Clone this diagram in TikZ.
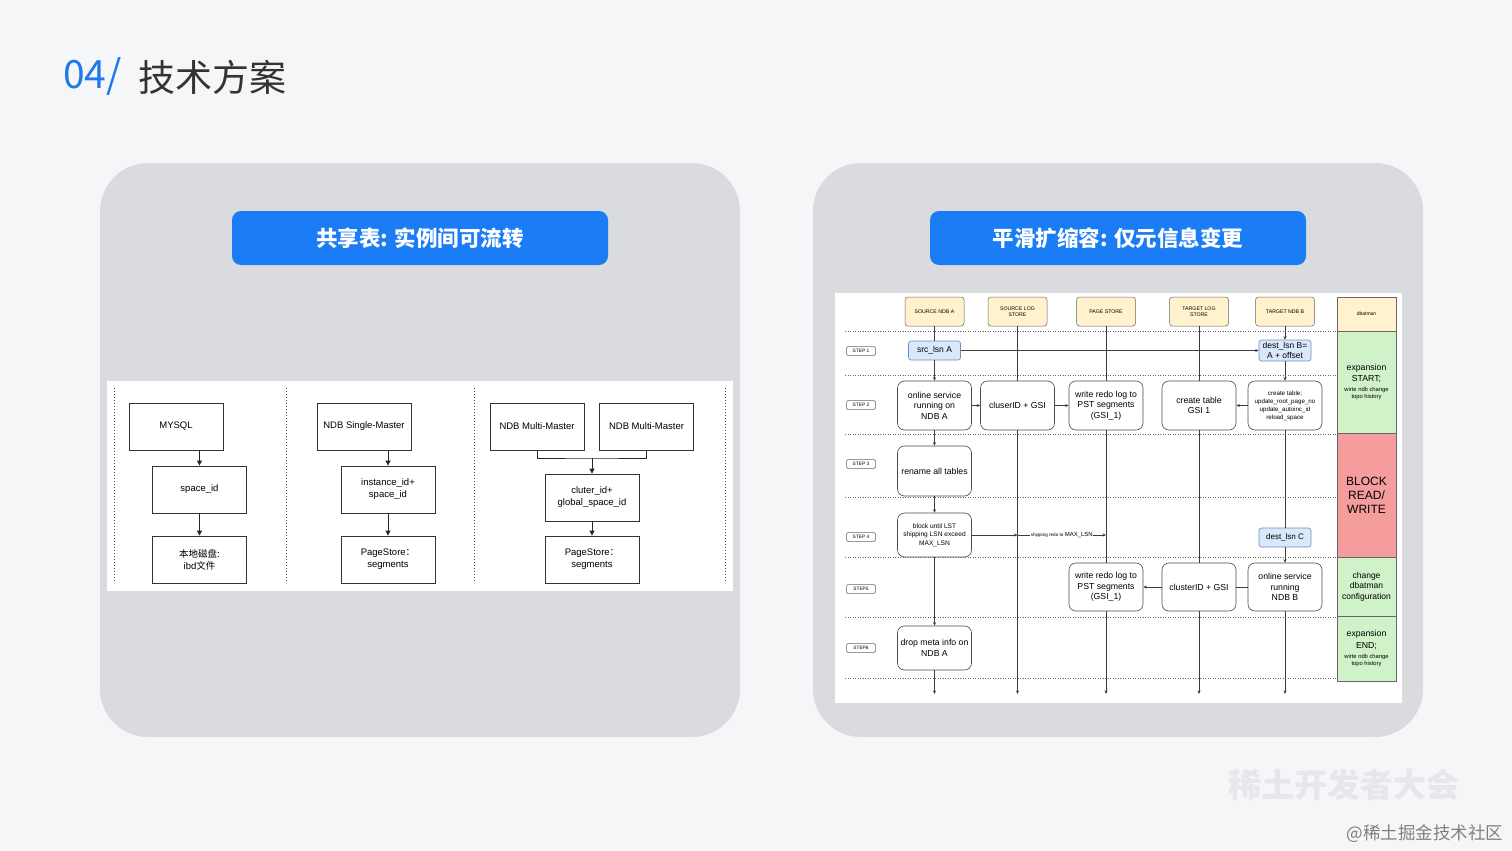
\documentclass[tikz,border=0pt]{standalone}
\usepackage{fontspec}
\setmainfont{Liberation Sans}
\newfontfamily\cjk{Noto Sans CJK SC}
\usetikzlibrary{arrows.meta}
\definecolor{bgc}{HTML}{F5F6F8}
\definecolor{panelc}{HTML}{DADBDE}
\definecolor{btnc}{HTML}{1B7DF5}
\definecolor{titleblue}{HTML}{1F79E6}
\definecolor{titlegray}{HTML}{333333}
\definecolor{yelf}{HTML}{FFF2CC}
\definecolor{bluef}{HTML}{DAE8FC}
\definecolor{blued}{HTML}{6C8EBF}
\definecolor{greenf}{HTML}{CFF2C9}
\definecolor{redf}{HTML}{F49D9C}
\definecolor{linec}{HTML}{3C3C3C}
\definecolor{wmc}{HTML}{E6E7EA}
\newcommand\dfa{\fontsize{8.7}{10.5}\selectfont}
\newcommand\dfb{\fontsize{5.8}{7}\selectfont}
\begin{document}
\begin{tikzpicture}[x=1pt,y=-1pt,
  lbox/.style={draw=black!80, line width=0.8pt, fill=white, minimum width=94, minimum height=47, align=center, inner sep=0, font=\fontsize{9.5}{12}\selectfont},
  larr/.style={draw=black!85, line width=0.8pt, -{Triangle[length=5pt,width=5pt]}},
  lline/.style={draw=black!85, line width=0.8pt},
  ldot/.style={draw=black!70, line width=0.8pt, dash pattern=on 1.2pt off 1.8pt},
  hdr/.style={draw=black!60, line width=0.5pt, fill=yelf, rounded corners=3, minimum width=59, minimum height=29, align=center, inner sep=0, font=\fontsize{5.2}{6.5}\selectfont},
  dcol/.style={draw=black!60, line width=0.5pt, minimum width=59, align=center, inner sep=0},
  stepbox/.style={draw=black!60, line width=0.5pt, fill=white, rounded corners=1.5, minimum width=29, minimum height=9, inner sep=0, font=\fontsize{4.8}{5}\selectfont},
  bluebox/.style={draw=blued, line width=0.6pt, fill=bluef, rounded corners=2.5, minimum width=52, minimum height=19, align=center, inner sep=0, font=\fontsize{8.5}{10}\selectfont},
  rbox/.style={draw=black!70, line width=0.6pt, fill=white, rounded corners=7, minimum width=74, minimum height=49, align=center, inner sep=0, font=\fontsize{8.7}{10.5}\selectfont},
  rline/.style={draw=linec, line width=0.6pt},
  rarr/.style={draw=linec, line width=0.6pt, -{Stealth[length=3.5pt,width=3pt]}},
  rdot/.style={draw=black!60, line width=0.6pt, dash pattern=on 1pt off 1.5pt},
  btn/.style={fill=btnc, rounded corners=9, minimum width=376, minimum height=54, inner sep=0, text=white, font=\cjk\bfseries\fontsize{21.5}{21.5}\selectfont}
]
\useasboundingbox (0,0) rectangle (1512,851);
\fill[bgc] (0,0) rectangle (1512,851);

% title
\node[anchor=west, inner sep=0, text=titleblue] (tnum) at (63,77) {\cjk\fontsize{39}{39}\selectfont 04/};
\node[anchor=west, inner sep=0, text=titlegray] (ttxt) at (138,77) {\cjk\fontsize{37}{37}\selectfont 技术方案};

% panels
\fill[panelc] (100,163) [rounded corners=48] rectangle (740,737);
\fill[panelc] (813,163) [rounded corners=48] rectangle (1423,737);

\node[btn] (b1) at (420,238) {共享表: 实例间可流转};
\node[btn] (b2) at (1118,238) {平滑扩缩容: 仅元信息变更};

% ===== left diagram =====
\fill[white] (107,381) rectangle (733,591);
\draw[ldot] (114,388) -- (114,583);
\draw[ldot] (286,388) -- (286,583);
\draw[ldot] (474,388) -- (474,583);
\draw[ldot] (725,388) -- (725,583);

\node[lbox] (mysql) at (176,426.5) {MYSQL};
\node[lbox] (sid) at (199.5,489.5) {space\_id};
\node[lbox] (disk) at (199.5,559.5) {\cjk 本地磁盘:\\ibd\cjk 文件};
\draw[larr] (sid.north |- mysql.south) -- (sid.north);
\draw[larr] (sid.south) -- (disk.north);

\node[lbox] (ndb1) at (364,426.5) {NDB Single-Master};
\node[lbox] (iid) at (388,489.5) {instance\_id+\\space\_id};
\node[lbox] (ps1) at (388,559.5) {PageStore\cjk ：\\segments};
\draw[larr] (iid.north |- ndb1.south) -- (iid.north);
\draw[larr] (iid.south) -- (ps1.north);

\node[lbox] (mm1) at (537,426.5) {NDB Multi-Master};
\node[lbox] (mm2) at (646.5,426.5) {NDB Multi-Master};
\node[lbox] (cid) at (592,497.5) {cluter\_id+\\global\_space\_id};
\node[lbox] (ps2) at (592,559.5) {PageStore\cjk ：\\segments};
\coordinate (jn) at (592,458);
\draw[lline] (mm1.south) |- (jn) -| (mm2.south);
\draw[larr] (jn) -- (cid.north);
\draw[larr] (cid.south) -- (ps2.north);

% ===== right diagram =====
\fill[white] (835,293) rectangle (1402,703);

\foreach \yy in {331,375,434,497,557,617,678}
  \draw[rdot] (845,\yy) -- (1337,\yy);

\node[hdr] (hA) at (934.5,311.5) {SOURCE NDB A};
\node[hdr] (hSL) at (1017.5,311.5) {SOURCE LOG\\STORE};
\node[hdr] (hPS) at (1106,311.5) {PAGE STORE};
\node[hdr] (hTL) at (1199,311.5) {TARGET LOG\\STORE};
\node[hdr] (hB) at (1285,311.5) {TARGET NDB B};

\node[dcol, fill=yelf, minimum height=34, font=\fontsize{5}{6}\selectfont] (dbm) at (1366.5,314) {dbatman};
\node[dcol, fill=greenf, minimum height=102, font=\dfb] (g1) at (1366.5,382) {\dfa expansion\\[3pt]\dfa START;\\[3pt]\dfb wirte ndb change\\\dfb topo history};
\node[dcol, fill=redf, minimum height=124, font=\fontsize{12}{14}\selectfont] (rd) at (1366.5,495) {BLOCK\\READ/\\WRITE};
\node[dcol, fill=greenf, minimum height=59, font=\fontsize{8.5}{10.5}\selectfont] (g2) at (1366.5,586.5) {change\\dbatman\\configuration};
\node[dcol, fill=greenf, minimum height=65, font=\dfb] (g3) at (1366.5,648.5) {\dfa expansion\\[3pt]\dfa END;\\[3pt]\dfb wirte ndb change\\\dfb topo history};

\node[stepbox] (s1) at (861,351) {STEP 1};
\node[stepbox] (s2) at (861,405) {STEP 2};
\node[stepbox] (s3) at (861,464) {STEP 3};
\node[stepbox] (s4) at (861,537) {STEP 4};
\node[stepbox] (s5) at (861,589) {STEP5};
\node[stepbox] (s6) at (861,648) {STEP6};

\node[bluebox] (src) at (934.5,350.5) {src\_lsn A};
\node[bluebox, minimum height=21] (dB) at (1285,350.5) {dest\_lsn B=\\A + offset};
\node[bluebox, font=\fontsize{8}{10}\selectfont] (dC) at (1285,537.5) {dest\_lsn C};

\node[rbox] (on1) at (934.5,405.5) {online service\\running on\\NDB A};
\node[rbox] (gsi1) at (1017.5,405.5) {cluserID + GSI};
\node[rbox] (wr1) at (1106,405.5) {write redo log to\\PST segments\\(GSI\_1)};
\node[rbox] (ct1) at (1199,405.5) {create table\\GSI 1};
\node[rbox, font=\fontsize{6.2}{8}\selectfont] (ct2) at (1285,405.5) {create table;\\update\_root\_page\_no\\update\_autoinc\_id\\reload\_space};
\node[rbox, minimum height=50] (ren) at (934.5,471) {rename all tables};
\node[rbox, minimum height=44, font=\fontsize{6.6}{8.5}\selectfont] (blk) at (934.5,535) {block until LST\\shipping LSN exceed\\MAX\_LSN};
\node[rbox, minimum height=48] (wr2) at (1106,587) {write redo log to\\PST segments\\(GSI\_1)};
\node[rbox, minimum height=48] (gsi2) at (1199,587) {clusterID + GSI};
\node[rbox, minimum height=48] (on2) at (1285,587) {online service\\running\\NDB B};
\node[rbox, minimum height=44] (drop) at (934.5,648) {drop meta info on\\NDB A};

\coordinate (eA) at (934.5,694);
\coordinate (eSL) at (1017.5,694);
\coordinate (ePS) at (1106,694);
\coordinate (eTL) at (1199,694);
\coordinate (eB) at (1285,694);
\coordinate (ship1) at (1017.5,535);
\coordinate (ship2) at (1106,535);

% lifeline A
\draw[rline] (hA.south) -- (src.north);
\draw[rarr] (src.south) -- (on1.north);
\draw[rarr] (on1.south) -- (ren.north);
\draw[rarr] (ren.south) -- (blk.north);
\draw[rarr] (blk.south) -- (drop.north);
\draw[rarr] (drop.south) -- (eA);
% lifeline source log store
\draw[rline] (hSL.south) -- (gsi1.north);
\draw[rarr] (gsi1.south) -- (eSL);
% lifeline page store
\draw[rline] (hPS.south) -- (wr1.north);
\draw[rline] (wr1.south) -- (wr2.north);
\draw[rarr] (wr2.south) -- (ePS);
% lifeline target log store
\draw[rline] (hTL.south) -- (ct1.north);
\draw[rline] (ct1.south) -- (gsi2.north);
\draw[rarr] (gsi2.south) -- (eTL);
% lifeline B
\draw[rarr] (hB.south) -- (dB.north);
\draw[rarr] (dB.south) -- (ct2.north);
\draw[rline] (ct2.south) -- (dC.north);
\draw[rarr] (dC.south) -- (on2.north);
\draw[rarr] (on2.south) -- (eB);

% horizontal connectors
\draw[rarr] (src.east) -- (dB.west);
\draw[rarr] (on1.east) -- (gsi1.west);
\draw[rarr] (gsi1.east) -- (wr1.west);
\draw[rarr] (ct2.west) -- (ct1.east);
\draw[rarr] (blk.east) -- (ship1);
\draw[rarr] (ship1) -- node[fill=white, inner sep=0.6pt] (shl) {\fontsize{4.6}{5}\selectfont shipping redo to \fontsize{6}{6}\selectfont MAX\_LSN} (ship2);
\draw[rline] (on2.west) -- (gsi2.east);
\draw[rarr] (gsi2.west) -- (wr2.east);

% watermark
\node[text=wmc, inner sep=0] (wm1) at (1344,785) {\cjk\bfseries\fontsize{33}{33}\selectfont 稀土开发者大会};
\node[text=black!50, inner sep=0] (wm2) at (1425,834) {\cjk\fontsize{17.5}{17.5}\selectfont @稀土掘金技术社区};
\end{tikzpicture}
\end{document}
